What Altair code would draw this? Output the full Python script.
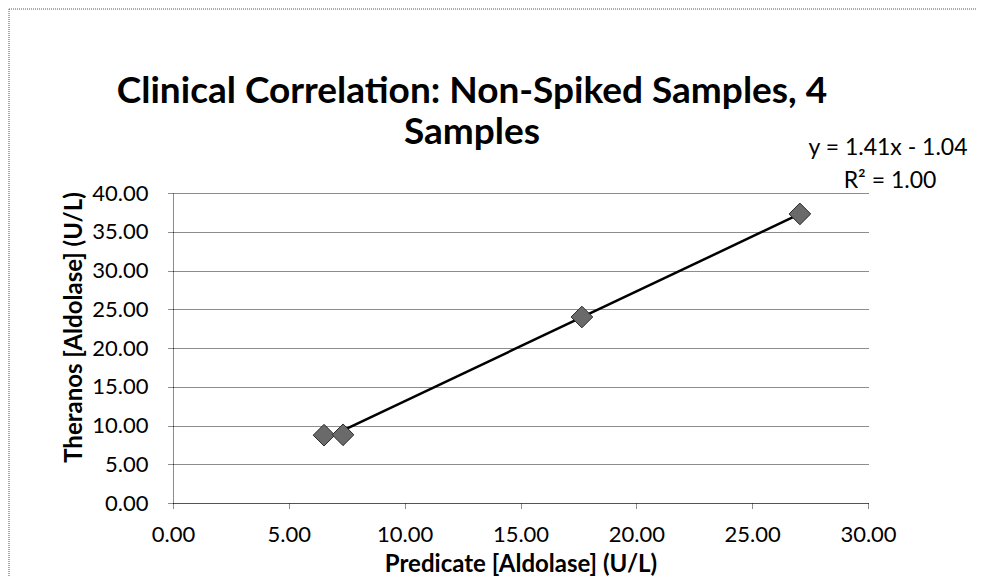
import altair as alt
import pandas as pd

# Data
predicate = [6.52, 7.34, 17.65, 27.06]
theranos = [8.75, 8.80, 24.0, 37.3]
x_ticks = [0, 5, 10, 15, 20, 25, 30]
y_ticks = [0, 5, 10, 15, 20, 25, 30, 35, 40]
title_lines = ["Clinical Correlation: Non-Spiked Samples, 4", "Samples"]
eq_lines = ["y = 1.41x - 1.04", "R\u00b2 = 1.00"]

df = pd.DataFrame({"x": predicate, "y": theranos})

FONT = "Lato"
GRID = "#1a1a1a"

xenc = alt.X(
    "x:Q",
    scale=alt.Scale(domain=[0, 30], nice=False),
    axis=alt.Axis(
        values=x_ticks, format=".2f", grid=False,
        title="Predicate [Aldolase] (U/L)",
        titleBaseline="alphabetic", titleY=68,
        labelPadding=15, labelFlush=False, labelOverlap=False,
    ),
)
yenc = alt.Y(
    "y:Q",
    scale=alt.Scale(domain=[0, 40], nice=False),
    axis=alt.Axis(
        values=y_ticks, format=".2f", grid=True,
        title="Theranos [Aldolase] (U/L)",
        titleX=-87, titleY=134,
        labelPadding=19, labelFlush=False, labelOverlap=False,
    ),
)

base = alt.Chart(df)

points = base.mark_point(
    shape="diamond", filled=True, size=470,
    fill="#6a6a6a", stroke="#2a2a2a", strokeWidth=1, opacity=1,
).encode(x=xenc, y=yenc)

trend = base.transform_regression("x", "y").mark_line(
    color="black", strokeWidth=2.5
).encode(x=xenc, y=yenc)

def text_layer(txt, x, y, size, weight="normal"):
    return alt.Chart(pd.DataFrame({"t": [txt]})).mark_text(
        font=FONT, fontSize=size, fontWeight=weight, color="black",
        align="center", baseline="alphabetic",
    ).encode(text="t:N", x=alt.value(x), y=alt.value(y))

title1 = text_layer(title_lines[0], 299, -90, 37, "bold")
title2 = text_layer(title_lines[1], 299, -49, 37, "bold")
eq1 = text_layer(eq_lines[0], 715, -38, 23)
eq2 = text_layer(eq_lines[1], 717, -5, 23)

border_left = alt.Chart(pd.DataFrame({"a": [0]})).mark_rule(
    color="#555", strokeDash=[1, 1], strokeWidth=1
).encode(x=alt.value(-164), y=alt.value(-184), y2=alt.value(385))

border_top = alt.Chart(pd.DataFrame({"a": [0]})).mark_rule(
    color="#555", strokeDash=[1, 1], strokeWidth=1
).encode(y=alt.value(-184), x=alt.value(-164), x2=alt.value(804))

chart = alt.layer(
    border_left, border_top, trend, points, title1, title2, eq1, eq2
).properties(
    width=695,
    height=310,
    autosize=alt.AutoSizeParams(type="none"),
    padding={"left": 165, "top": 185, "right": 109, "bottom": 74},
).configure_view(stroke=None).configure_axis(
    labelFont=FONT, labelFontSize=22, labelColor="black",
    titleFont=FONT, titleFontSize=24, titleFontWeight="bold", titleColor="black",
    domainColor=GRID, domainDash=[1, 1], domainWidth=1,
    tickColor=GRID, tickDash=[1, 1], tickSize=6, tickWidth=1,
    gridColor=GRID, gridDash=[1, 1], gridWidth=1, gridOpacity=1,
)

chart.save("out.html", embed_options={"renderer": "svg", "actions": False})
